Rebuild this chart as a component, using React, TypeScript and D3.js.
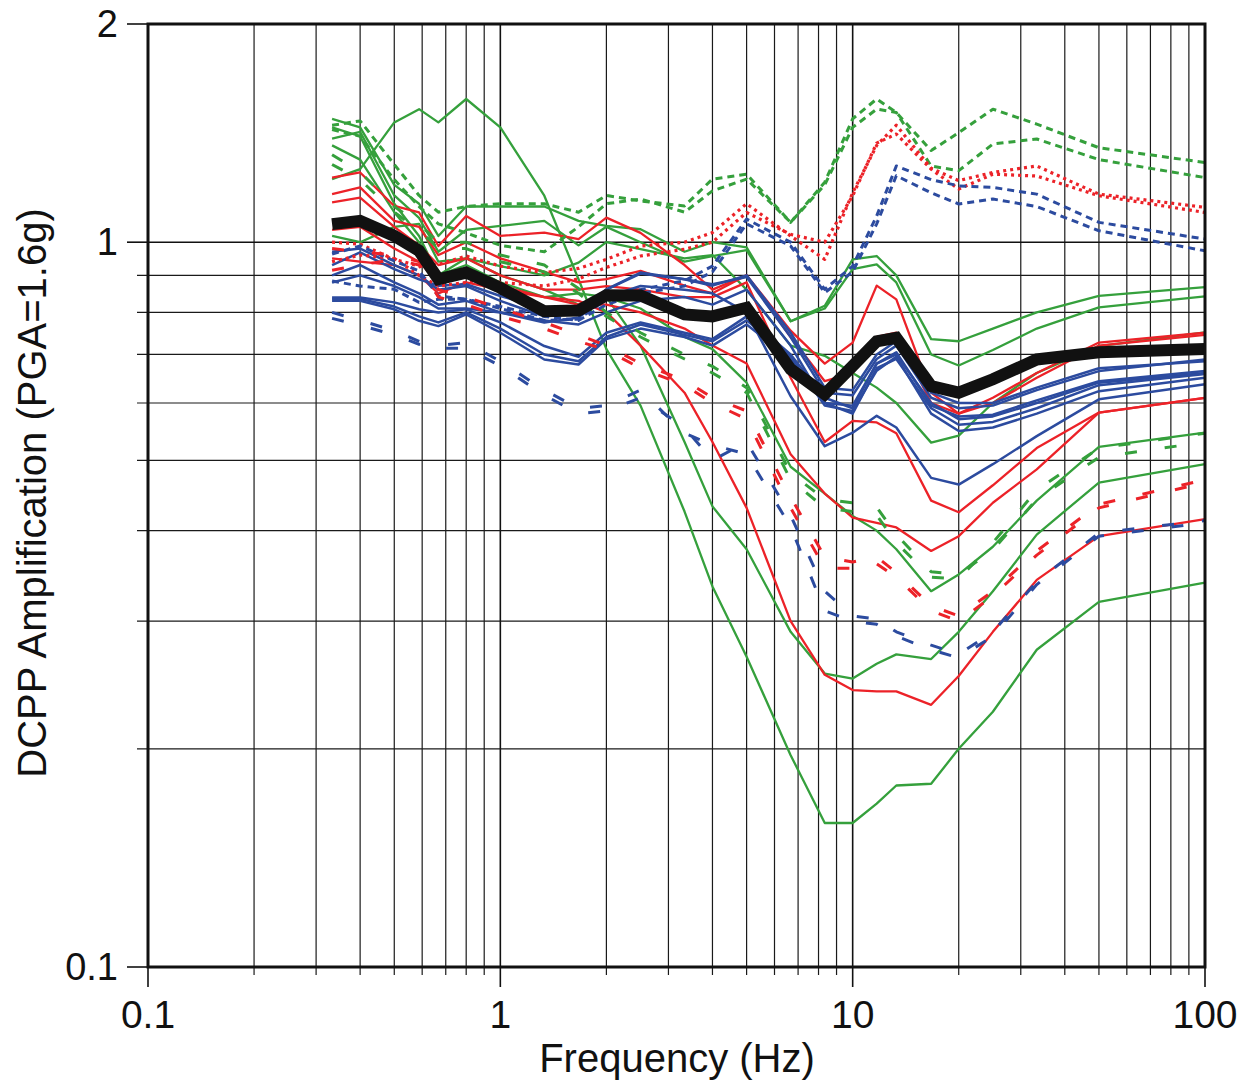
import React from "react";
import * as d3 from "d3";

// Frequencies (Hz) at which all curves are sampled
const FREQ = [0.333, 0.4, 0.5, 0.588, 0.667, 0.8, 1, 1.333, 1.667, 2, 2.5, 3.333, 4, 5, 6.667, 8.333, 10, 11.7, 13.3, 16.7, 20, 25, 33.3, 50, 100];

// Mean amplification (thick black)
const MEAN = [1.059, 1.07, 1.02, 0.973, 0.889, 0.908, 0.865, 0.803, 0.805, 0.845, 0.844, 0.795, 0.79, 0.812, 0.668, 0.617, 0.675, 0.73, 0.738, 0.633, 0.62, 0.647, 0.689, 0.705, 0.712];

// Green solid
const G1 = [1.48, 1.44, 1.2, 1.13, 1.02, 1.12, 1.12, 1.12, 1.07, 1.053, 1.042, 0.97, 1.0, 0.984, 0.778, 0.817, 0.947, 0.957, 0.9, 0.735, 0.73, 0.76, 0.8, 0.843, 0.867];
const G2 = [1.39, 1.42, 1.16, 1.08, 0.97, 1.04, 1.053, 1.07, 0.99, 1.05, 1.0, 0.94, 0.957, 0.975, 0.778, 0.81, 0.918, 0.932, 0.88, 0.7, 0.676, 0.71, 0.76, 0.813, 0.842];
const G3 = [1.02, 1.0, 1.05, 1.06, 0.94, 0.95, 0.927, 0.9, 0.937, 1.0, 0.978, 0.95, 0.96, 0.86, 0.72, 0.697, 0.66, 0.63, 0.6, 0.529, 0.541, 0.6, 0.66, 0.719, 0.751];
const G4 = [1.44, 1.4, 1.13, 1.02, 0.9, 0.95, 0.9, 0.86, 0.82, 0.84, 0.81, 0.74, 0.712, 0.64, 0.49, 0.45, 0.419, 0.4, 0.377, 0.33, 0.348, 0.38, 0.44, 0.522, 0.546];
const G5 = [1.36, 1.3, 1.1, 1.0, 0.9, 0.93, 0.88, 0.84, 0.85, 0.84, 0.72, 0.53, 0.432, 0.377, 0.29, 0.254, 0.25, 0.262, 0.27, 0.266, 0.29, 0.33, 0.395, 0.466, 0.494];
const G6 = [1.222, 1.261, 1.463, 1.526, 1.463, 1.576, 1.44, 1.159, 0.889, 0.712, 0.595, 0.425, 0.335, 0.268, 0.196, 0.158, 0.158, 0.168, 0.178, 0.179, 0.2, 0.225, 0.274, 0.319, 0.339];

// Red solid
const R1 = [1.228, 1.248, 1.122, 1.099, 0.988, 1.087, 1.02, 1.031, 1.01, 1.081, 1.03, 0.93, 0.86, 0.9, 0.755, 0.68, 0.727, 0.871, 0.834, 0.62, 0.58, 0.61, 0.66, 0.727, 0.75];
const R2 = [1.165, 1.19, 1.07, 1.05, 0.96, 1.0, 0.95, 0.91, 0.88, 0.889, 0.913, 0.871, 0.85, 0.9, 0.74, 0.643, 0.66, 0.74, 0.75, 0.6, 0.58, 0.6, 0.65, 0.72, 0.745];
const R3 = [1.135, 1.152, 1.05, 0.99, 0.93, 0.95, 0.9, 0.86, 0.86, 0.87, 0.86, 0.84, 0.84, 0.88, 0.65, 0.53, 0.567, 0.564, 0.545, 0.44, 0.424, 0.462, 0.52, 0.582, 0.61];
const R4 = [0.95, 0.94, 0.93, 0.9, 0.85, 0.88, 0.86, 0.84, 0.82, 0.82, 0.8, 0.76, 0.72, 0.68, 0.51, 0.45, 0.417, 0.41, 0.404, 0.375, 0.393, 0.437, 0.486, 0.582, 0.61];
const R5 = [1.04, 1.05, 0.98, 0.94, 0.88, 0.9, 0.87, 0.84, 0.83, 0.8, 0.72, 0.62, 0.53, 0.43, 0.3, 0.253, 0.241, 0.24, 0.24, 0.23, 0.252, 0.29, 0.342, 0.393, 0.415];

// Blue solid
const B1 = [0.93, 0.968, 0.918, 0.889, 0.871, 0.875, 0.843, 0.81, 0.8, 0.86, 0.905, 0.889, 0.875, 0.895, 0.74, 0.62, 0.615, 0.69, 0.72, 0.61, 0.59, 0.595, 0.625, 0.664, 0.689];
const B2 = [0.9, 0.93, 0.88, 0.85, 0.82, 0.83, 0.8, 0.78, 0.77, 0.8, 0.83, 0.84, 0.82, 0.86, 0.72, 0.6, 0.595, 0.68, 0.705, 0.595, 0.575, 0.578, 0.605, 0.643, 0.664];
const B3 = [0.839, 0.839, 0.826, 0.808, 0.8, 0.808, 0.775, 0.719, 0.695, 0.75, 0.775, 0.75, 0.735, 0.79, 0.7, 0.61, 0.59, 0.68, 0.7, 0.6, 0.57, 0.575, 0.6, 0.64, 0.66];
const B4 = [0.83, 0.83, 0.808, 0.779, 0.766, 0.795, 0.75, 0.689, 0.678, 0.735, 0.76, 0.74, 0.72, 0.77, 0.69, 0.6, 0.58, 0.67, 0.69, 0.59, 0.56, 0.565, 0.59, 0.635, 0.658];
const B5 = [0.835, 0.835, 0.815, 0.79, 0.775, 0.8, 0.76, 0.7, 0.685, 0.74, 0.77, 0.745, 0.73, 0.78, 0.695, 0.595, 0.585, 0.665, 0.695, 0.58, 0.549, 0.555, 0.58, 0.623, 0.65];
const B6 = [0.97, 0.98, 0.93, 0.9, 0.86, 0.87, 0.83, 0.79, 0.8, 0.861, 0.908, 0.889, 0.871, 0.9, 0.75, 0.63, 0.625, 0.7, 0.73, 0.62, 0.6, 0.6, 0.63, 0.67, 0.685];
const B7 = [0.88, 0.9, 0.87, 0.84, 0.81, 0.81, 0.8, 0.775, 0.787, 0.84, 0.87, 0.86, 0.85, 0.8, 0.613, 0.523, 0.546, 0.576, 0.555, 0.473, 0.463, 0.494, 0.54, 0.607, 0.637];

// Upper short-dashed / dotted curves
const GD1 = [1.45, 1.47, 1.28, 1.16, 1.1, 1.12, 1.13, 1.13, 1.1, 1.16, 1.14, 1.122, 1.222, 1.241, 1.065, 1.21, 1.48, 1.576, 1.51, 1.338, 1.416, 1.526, 1.455, 1.35, 1.288];
const GD2 = [1.43, 1.4, 1.22, 1.12, 1.06, 1.03, 0.99, 0.97, 1.05, 1.13, 1.147, 1.1, 1.177, 1.222, 1.065, 1.2, 1.44, 1.526, 1.51, 1.274, 1.255, 1.366, 1.388, 1.3, 1.228];
const RD1 = [1.0, 0.994, 0.947, 0.927, 0.932, 0.957, 0.927, 0.908, 0.92, 0.947, 0.988, 1.0, 1.031, 1.13, 1.02, 0.947, 1.17, 1.36, 1.45, 1.265, 1.216, 1.248, 1.274, 1.165, 1.117];
const RD2 = [0.94, 0.96, 0.95, 0.9, 0.87, 0.88, 0.88, 0.87, 0.89, 0.923, 0.957, 0.978, 1.0, 1.099, 1.025, 1.0, 1.159, 1.37, 1.41, 1.261, 1.184, 1.241, 1.234, 1.159, 1.099];
const BD1 = [0.963, 0.988, 0.942, 0.913, 0.843, 0.834, 0.81, 0.78, 0.783, 0.834, 0.86, 0.885, 0.927, 1.076, 1.0, 0.861, 0.927, 1.087, 1.274, 1.22, 1.196, 1.19, 1.165, 1.065, 1.01];
const BD2 = [0.884, 0.87, 0.861, 0.826, 0.834, 0.834, 0.815, 0.79, 0.78, 0.82, 0.85, 0.87, 0.91, 1.06, 0.988, 0.852, 0.91, 1.06, 1.235, 1.17, 1.129, 1.147, 1.12, 1.037, 0.973];

// Lower long-dashed curves
const GL1 = [1.32, 1.25, 1.12, 1.06, 1.0, 1.0, 0.96, 0.93, 0.863, 0.8, 0.75, 0.7, 0.674, 0.63, 0.48, 0.442, 0.437, 0.431, 0.395, 0.351, 0.348, 0.376, 0.442, 0.505, 0.53];
const GL2 = [1.28, 1.22, 1.1, 1.04, 0.98, 0.98, 0.94, 0.91, 0.85, 0.79, 0.74, 0.69, 0.66, 0.62, 0.47, 0.43, 0.425, 0.42, 0.385, 0.345, 0.343, 0.385, 0.455, 0.52, 0.545];
const RL1 = [0.915, 0.93, 0.947, 0.93, 0.84, 0.82, 0.79, 0.76, 0.73, 0.71, 0.67, 0.635, 0.6, 0.57, 0.43, 0.355, 0.355, 0.36, 0.345, 0.31, 0.3, 0.325, 0.37, 0.43, 0.466];
const RL2 = [0.98, 0.97, 0.96, 0.94, 0.86, 0.84, 0.81, 0.775, 0.745, 0.72, 0.68, 0.645, 0.61, 0.585, 0.445, 0.368, 0.362, 0.368, 0.35, 0.315, 0.305, 0.33, 0.375, 0.435, 0.47];
const BL1 = [0.785, 0.768, 0.745, 0.723, 0.72, 0.727, 0.685, 0.625, 0.59, 0.595, 0.625, 0.545, 0.525, 0.51, 0.405, 0.31, 0.3, 0.297, 0.286, 0.274, 0.267, 0.286, 0.337, 0.393, 0.41];
const BL2 = [0.8, 0.78, 0.755, 0.73, 0.714, 0.714, 0.675, 0.615, 0.58, 0.585, 0.61, 0.555, 0.5, 0.53, 0.42, 0.33, 0.305, 0.302, 0.29, 0.278, 0.27, 0.29, 0.34, 0.397, 0.413];

const X_TICKS = [0.1, 1, 10, 100];
const X_TICK_LABELS = ["0.1", "1", "10", "100"];
const Y_TICKS = [0.1, 1, 2];
const Y_TICK_LABELS = ["0.1", "1", "2"];
const X_TITLE = "Frequency (Hz)";
const Y_TITLE = "DCPP Amplification (PGA=1.6g)";

const GREEN = "#35a03c";
const RED = "#ec2228";
const BLUE = "#2c4b9f";

type S = { v: number[]; c: string; w: number; dash?: string };

const SERIES: S[] = [
  ...[G1, G2, G3, G4, G5, G6].map((v) => ({ v, c: GREEN, w: 2.3 })),
  ...[R1, R2, R3, R4, R5].map((v) => ({ v, c: RED, w: 2.3 })),
  ...[B1, B2, B3, B4, B5, B6, B7].map((v) => ({ v, c: BLUE, w: 2.5 })),
  ...[GD1, GD2].map((v) => ({ v, c: GREEN, w: 3, dash: "7 5" })),
  ...[RD1, RD2].map((v) => ({ v, c: RED, w: 3.2, dash: "3 4" })),
  ...[BD1, BD2].map((v) => ({ v, c: BLUE, w: 3, dash: "7 5" })),
  ...[GL1, GL2].map((v) => ({ v, c: GREEN, w: 3, dash: "12 28" })),
  ...[RL1, RL2].map((v) => ({ v, c: RED, w: 3, dash: "12 28" })),
  ...[BL1, BL2].map((v) => ({ v, c: BLUE, w: 3, dash: "12 28" })),
];

export default function App() {
  const L = 148, R = 1205, T = 24, B = 967;
  const x = d3.scaleLog().domain([0.1, 100]).range([L, R]);
  const y = d3.scaleLog().domain([0.1, 2]).range([B, T]);
  const line = d3
    .line<number>()
    .x((_, i) => x(FREQ[i]))
    .y((d) => y(d));

  const minorX: number[] = [];
  [0.1, 1, 10].forEach((d) => {
    for (let k = 2; k <= 9; k++) minorX.push(d * k);
  });
  const minorY = [0.2, 0.3, 0.4, 0.5, 0.6, 0.7, 0.8, 0.9];
  const font = "'Liberation Sans', Arial, Helvetica, sans-serif";

  return (
    <svg
      width={1247}
      height={1084}
      style={{ position: "absolute", left: 0, top: 0, background: "#fff" }}
      fontFamily={font}
    >
      <rect x={0} y={0} width={1247} height={1084} fill="#fff" />
      {/* vertical grid */}
      {minorX.map((f) => (
        <line key={"vx" + f} x1={x(f)} x2={x(f)} y1={T} y2={B + 8} stroke="#1a1a1a" strokeWidth={1.2} />
      ))}
      {[1, 10].map((f) => (
        <line key={"vM" + f} x1={x(f)} x2={x(f)} y1={T} y2={B} stroke="#111" strokeWidth={1.6} />
      ))}
      {X_TICKS.map((f) => (
        <line key={"xt" + f} x1={x(f)} x2={x(f)} y1={B} y2={B + 20} stroke="#111" strokeWidth={1.6} />
      ))}
      {/* horizontal grid */}
      {minorY.map((v) => (
        <line key={"hy" + v} x1={L - 11} x2={R} y1={y(v)} y2={y(v)} stroke="#1a1a1a" strokeWidth={1.2} />
      ))}
      <line x1={L} x2={R} y1={y(1)} y2={y(1)} stroke="#111" strokeWidth={1.6} />
      {Y_TICKS.map((v) => (
        <line key={"yt" + v} x1={L - 21} x2={L} y1={y(v)} y2={y(v)} stroke="#111" strokeWidth={1.6} />
      ))}

      {/* data curves */}
      {SERIES.map((s, i) => (
        <path
          key={"s" + i}
          d={line(s.v) || ""}
          fill="none"
          stroke={s.c}
          strokeWidth={s.w}
          strokeDasharray={s.dash}
          strokeLinejoin="round"
        />
      ))}
      <path d={line(MEAN) || ""} fill="none" stroke="#111" strokeWidth={12} strokeLinejoin="miter" />

      {/* frame */}
      <rect x={L} y={T} width={R - L} height={B - T} fill="none" stroke="#111" strokeWidth={3} />

      {/* tick labels */}
      {X_TICKS.map((f, i) => (
        <text key={"xl" + f} x={x(f)} y={1028} fontSize={39} textAnchor="middle" fill="#111">
          {X_TICK_LABELS[i]}
        </text>
      ))}
      {Y_TICKS.map((v, i) => (
        <text key={"yl" + v} x={118} y={y(v) + 13} fontSize={38} textAnchor="end" fill="#111">
          {Y_TICK_LABELS[i]}
        </text>
      ))}
      <text x={677} y={1072} fontSize={40} textAnchor="middle" fill="#111">
        {X_TITLE}
      </text>
      <text
        transform="translate(46,493) rotate(-90)"
        fontSize={40}
        textAnchor="middle"
        fill="#111"
      >
        {Y_TITLE}
      </text>
    </svg>
  );
}
